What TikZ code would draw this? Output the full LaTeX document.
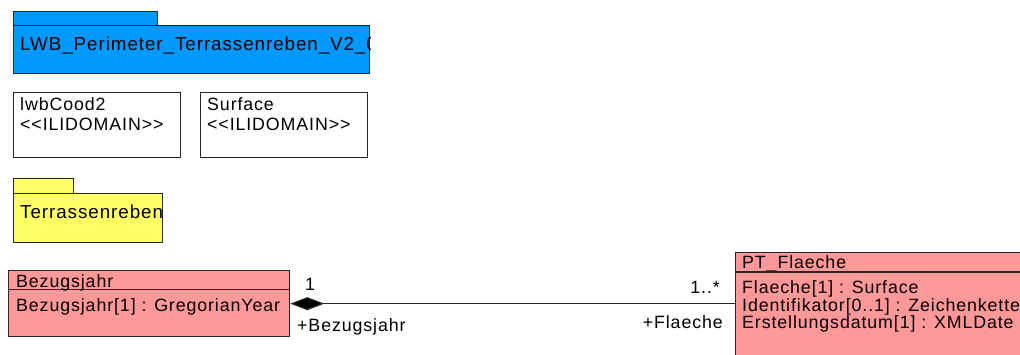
\documentclass[tikz,border=0pt]{standalone}
\usepackage{fontspec}
\setmainfont{Liberation Sans}[LetterSpace=5, Ligatures=TeXOff]
\usetikzlibrary{arrows.meta}
\definecolor{pkgblue}{RGB}{0,153,255}
\definecolor{pkgyellow}{RGB}{255,255,102}
\definecolor{clspink}{RGB}{255,153,153}

\tikzset{
  box/.style={draw=black!85, line width=1.3pt, anchor=north west, inner sep=0pt},
  sepline/.style={draw=black!85, line width=1.3pt},
  txt/.style={anchor=base west, inner sep=0pt, font=\fontsize{17.8}{17.8}\selectfont},
  pkgtxt/.style={txt, font=\fontsize{18.8}{18.8}\selectfont},
}

\begin{document}
\begin{tikzpicture}[x=1pt,y=-1pt]
\useasboundingbox (0,0) rectangle (1020,354);

%Shape: Package LWB
\node[box, fill=pkgblue, minimum width=144pt, minimum height=14.5pt] (lwbtab) at (13,10.5) {};
\node[box, fill=pkgblue, minimum width=356pt, minimum height=48pt] (lwb) at (13,25) {};
\begin{scope}
\clip (lwb.north west) rectangle (lwb.south east);
% Text Node
\node[pkgtxt] (lwbname) at (20,50) {LWB\_Perimeter\_Terrassenreben\_V2\_0};
\end{scope}

%Shape: Domain lwbCood2
\node[box, minimum width=167pt, minimum height=65pt] (cood) at (13,92) {};
\node[txt] (coodname) at (20,110) {lwbCood2};
\node[txt] (coodstereo) at (20,130) {<<ILIDOMAIN>>};

%Shape: Domain Surface
\node[box, minimum width=167pt, minimum height=65pt] (surf) at (200,92) {};
\node[txt] (surfname) at (207,110) {Surface};
\node[txt] (surfstereo) at (207,130) {<<ILIDOMAIN>>};

%Shape: Package Terrassenreben
\node[box, fill=pkgyellow, minimum width=60pt, minimum height=15pt] (terrtab) at (13,178) {};
\node[box, fill=pkgyellow, minimum width=149pt, minimum height=49pt] (terr) at (13,193) {};
\node[pkgtxt] (terrname) at (20,218) {Terrassenreben};

%Shape: Class Bezugsjahr
\node[box, fill=clspink, minimum width=281pt, minimum height=66pt] (bez) at (8,270) {};
\draw[sepline] ([yshift=-19.5pt]bez.north west) -- ([yshift=-19.5pt]bez.north east);
\node[txt] (bezname) at (16,287) {Bezugsjahr};
\node[txt] (bezattr) at (16,311) {Bezugsjahr[1] : GregorianYear};

%Shape: Class PT_Flaeche
\node[box, fill=clspink, minimum width=300pt, minimum height=104pt] (pt) at (735,252) {};
\node[txt] (ptname) at (742,268) {PT\_Flaeche};
\draw[sepline] ([yshift=-20pt]pt.north west) -- ([yshift=-20pt]pt.north east);
\node[txt] (ptattra) at (742,293) {Flaeche[1] : Surface};
\node[txt] (ptattrb) at (742,311) {Identifikator[0..1] : Zeichenkette};
\node[txt] (ptattrc) at (742,328) {Erstellungsdatum[1] : XMLDate};

%Straight Lines: composition
\draw[sepline, -{Diamond[fill=black, length=34pt, width=13pt]}] (bez.east -| pt.west) -- (bez.east);

% Text Node
\node[txt] (multa) at (305,290) {1};
\node[txt] (rolea) at (297,331) {+Bezugsjahr};
\node[txt, anchor=base east] (multb) at (720,293) {1..*};
\node[txt, anchor=base east] (roleb) at (723,328) {+Flaeche};

\end{tikzpicture}
\end{document}
